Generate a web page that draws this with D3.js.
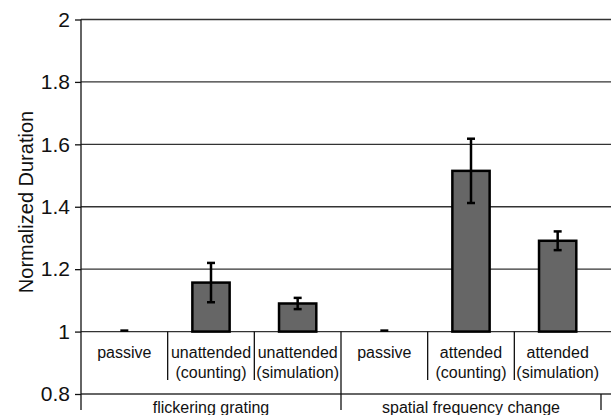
<!DOCTYPE html>
<html>
<head>
<meta charset="utf-8">
<script src="https://cdn.jsdelivr.net/npm/d3@7"></script>
<style>
  body { margin: 0; background: #fff; }
  text { font-family: "Liberation Sans", Arial, Helvetica, sans-serif; fill: #111; }
</style>
</head>
<body>
<svg id="chart" width="611" height="415"></svg>
<script>
// categories (two-line labels) and their groups
const categories = ["p1", "uc", "us", "p2", "ac", "as"];
const catLines = [
    ["passive"],
    ["unattended", "(counting)"],
    ["unattended", "(simulation)"],
    ["passive"],
    ["attended", "(counting)"],
    ["attended", "(simulation)"]
];
const groups = ["flickering grating", "spatial frequency change"];
const groupSize = [3, 3];

// normalized durations and error (half-length)
const values = [1.0, 1.157, 1.09, 1.0, 1.515, 1.291];
const errors = [0.0, 0.063, 0.018, 0.0, 0.103, 0.03];

const yTicks = [0.8, 1, 1.2, 1.4, 1.6, 1.8, 2];

const svg = d3.select("#chart");

const plotLeft = 81, plotRight = 601, plotTop = 19.5, plotBottom = 394;

const x = d3.scaleBand()
    .domain(categories)
    .range([plotLeft, plotRight])
    .paddingInner(0.57)
    .paddingOuter(0.285);

const y = d3.scaleLinear()
    .domain([0.8, 2])
    .range([plotBottom, plotTop]);

// gridlines
svg.append("g")
    .selectAll("line")
    .data(yTicks)
    .join("line")
    .attr("x1", plotLeft)
    .attr("x2", 611)
    .attr("y1", d => y(d))
    .attr("y2", d => y(d))
    .attr("stroke", "#333")
    .attr("stroke-width", 1.3);

// y axis
const yAxis = svg.append("g")
    .attr("transform", `translate(${plotLeft},0)`)
    .call(d3.axisLeft(y).tickValues(yTicks).tickSize(6).tickPadding(5)
        .tickFormat(d => d3.format("")(d)));
yAxis.select(".domain").remove();
yAxis.selectAll(".tick line").attr("stroke", "#111").attr("stroke-width", 1.3);
yAxis.selectAll(".tick text").attr("font-size", 21).attr("fill", "#111");

// axis vertical line
svg.append("line")
    .attr("x1", plotLeft).attr("x2", plotLeft)
    .attr("y1", plotTop).attr("y2", 410)
    .attr("stroke", "#111").attr("stroke-width", 1.3);

// y title
svg.append("text")
    .attr("transform", "translate(33,202) rotate(-90)")
    .attr("text-anchor", "middle")
    .attr("font-size", 20)
    .text("Normalized Duration");

// category dividers
const step = x.step();
const base = y(1);
categories.forEach((c, i) => {
    if (i === 0) return;
    const isGroupEdge = (i === groupSize[0]);
    svg.append("line")
        .attr("x1", plotLeft + i * step).attr("x2", plotLeft + i * step)
        .attr("y1", base).attr("y2", isGroupEdge ? 410 : 380)
        .attr("stroke", "#111").attr("stroke-width", 1.3);
});
// right edge of the group row
svg.append("line")
    .attr("x1", plotRight).attr("x2", plotRight)
    .attr("y1", plotBottom).attr("y2", 410)
    .attr("stroke", "#111").attr("stroke-width", 1.3);

// category labels
catLines.forEach((lines, i) => {
    const t = svg.append("text")
        .attr("text-anchor", "middle")
        .attr("font-size", 16)
        .attr("x", x(categories[i]) + x.bandwidth() / 2)
        .attr("y", 358);
    lines.forEach((l, j) => {
        t.append("tspan")
            .attr("x", x(categories[i]) + x.bandwidth() / 2)
            .attr("dy", j === 0 ? 0 : 20)
            .text(l);
    });
});

// group labels
let start = 0;
groups.forEach((g, i) => {
    svg.append("text")
        .attr("text-anchor", "middle")
        .attr("font-size", 16)
        .attr("x", plotLeft + (start + groupSize[i] / 2) * step)
        .attr("y", 413)
        .text(g);
    start += groupSize[i];
});

// bars
svg.append("g")
    .selectAll("rect")
    .data(categories)
    .join("rect")
    .attr("x", d => x(d))
    .attr("width", x.bandwidth())
    .attr("y", (d, i) => y(values[i]))
    .attr("height", (d, i) => y(1) - y(values[i]))
    .attr("fill", "#666")
    .attr("stroke", "#000")
    .attr("stroke-width", 2.5);

// error bars
const cap = 4;
const eb = svg.append("g").attr("stroke", "#000").attr("stroke-width", 2.5);
categories.forEach((c, i) => {
    const cx = x(c) + x.bandwidth() / 2;
    const hi = y(values[i] + errors[i]);
    const lo = y(values[i] - errors[i]);
    if (errors[i] > 0) {
        eb.append("line").attr("x1", cx).attr("x2", cx).attr("y1", hi).attr("y2", lo);
        eb.append("line").attr("x1", cx - cap).attr("x2", cx + cap).attr("y1", lo).attr("y2", lo);
    }
    eb.append("line").attr("x1", cx - cap).attr("x2", cx + cap).attr("y1", hi - (errors[i] > 0 ? 0 : 1)).attr("y2", hi - (errors[i] > 0 ? 0 : 1));
});
</script>
</body>
</html>
